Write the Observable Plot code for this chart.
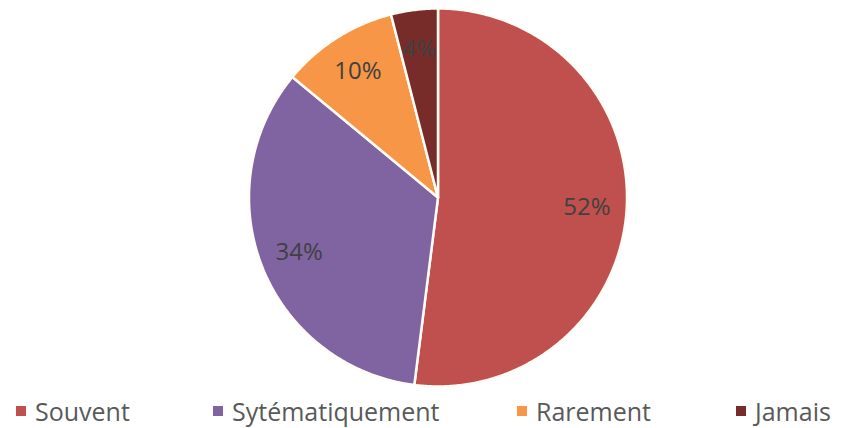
<!DOCTYPE html>
<html>
<head>
<meta charset="utf-8">
<script src="https://cdn.jsdelivr.net/npm/d3@7"></script>
<script src="https://cdn.jsdelivr.net/npm/@observablehq/plot@0.6"></script>
<style>
  body { margin: 0; background: #fff; }
  #wrap { position: relative; width: 843px; height: 428px; overflow: hidden; }
  #legend { position: absolute; left: 0; top: 393px; width: 843px; height: 35px; font-family: "Open Sans", sans-serif; font-size: 25px; color: #595959; }
  .item { position: absolute; top: 0; height: 35px; display: flex; align-items: center; white-space: nowrap; }
  .sw { width: 10px; height: 10px; margin-right: 9px; }
</style>
</head>
<body>
<div id="wrap"></div>
<script>
const categories = ["Souvent", "Sytématiquement", "Rarement", "Jamais"];
const values = [52, 34, 10, 4];
const labels = ["52%", "34%", "10%", "4%"];
const colors = ["#C0504D", "#8064A2", "#F79646", "#772C2A"];
const legendLeft = [16, 213, 517, 736];

const W = 843, H = 393;
const cx = 437.5, cy = 197, R = 189;

const arcs = d3.pie().sort(null).value(d => d)(values);
const polys = [];
const labelPts = [];
arcs.forEach((a, i) => {
  polys.push({cat: categories[i], x: cx, y: cy});
  const n = Math.max(2, Math.ceil((a.endAngle - a.startAngle) / (Math.PI / 360)));
  for (let k = 0; k <= n; k++) {
    const t = a.startAngle + (a.endAngle - a.startAngle) * k / n;
    polys.push({cat: categories[i], x: cx + R * Math.sin(t), y: cy - R * Math.cos(t)});
  }
  polys.push({cat: categories[i], x: cx, y: cy});
  const m = (a.startAngle + a.endAngle) / 2;
  const lr = R * 0.79;
  labelPts.push({label: labels[i], x: cx + lr * Math.sin(m), y: cy - lr * Math.cos(m)});
});

const chart = Plot.plot({
  width: W, height: H, margin: 0,
  x: {type: "identity", axis: null}, y: {type: "identity", axis: null},
  color: {domain: categories, range: colors},
  marks: [
    Plot.line(polys, {x: "x", y: "y", z: "cat", fill: "cat", stroke: "#fffdf6", strokeWidth: 2.5, strokeLinejoin: "round", curve: "linear"}),
    Plot.text(labelPts, {x: "x", y: "y", text: "label", fontSize: 24, fill: "#404040", fontFamily: "Open Sans", textAnchor: "middle", lineAnchor: "middle"})
  ]
});
const wrap = document.getElementById("wrap");
wrap.appendChild(chart);

const legend = document.createElement("div");
legend.id = "legend";
categories.forEach((c, i) => {
  const it = document.createElement("div");
  it.className = "item";
  it.style.left = legendLeft[i] + "px";
  const sw = document.createElement("span");
  sw.className = "sw";
  sw.style.background = colors[i];
  const tx = document.createElement("span");
  tx.textContent = c;
  it.appendChild(sw); it.appendChild(tx);
  legend.appendChild(it);
});
wrap.appendChild(legend);
</script>
</body>
</html>
